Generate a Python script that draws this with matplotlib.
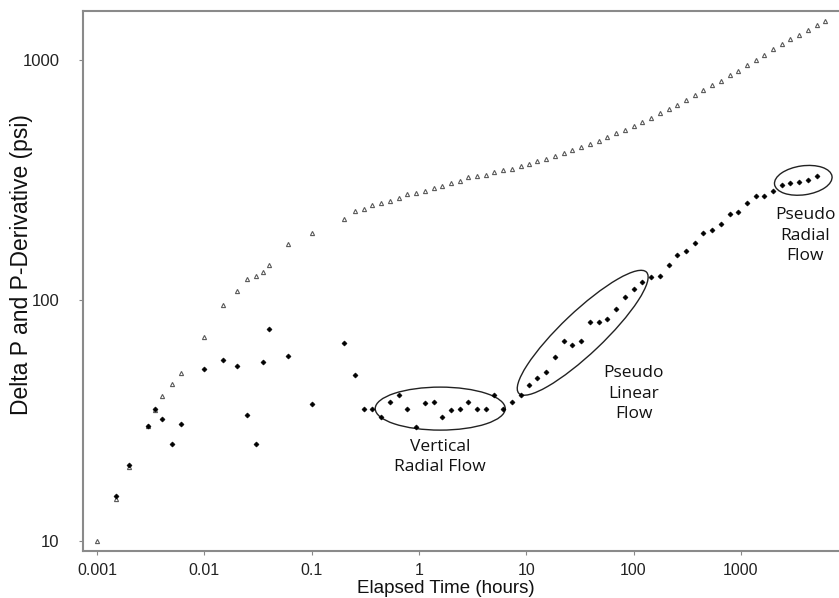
import matplotlib
matplotlib.use('Agg')
import matplotlib.pyplot as plt
from matplotlib.patches import Ellipse
from matplotlib.ticker import FixedLocator, FixedFormatter, NullLocator
import matplotlib.transforms as mtransforms

# Delta P (open triangles)
t_dp = [0.001, 0.0015, 0.002, 0.003, 0.0035, 0.004, 0.005, 0.006, 0.01, 0.015,
        0.02, 0.025, 0.03, 0.035, 0.04, 0.06, 0.1, 0.2,
        0.255, 0.306, 0.368, 0.446, 0.541, 0.649, 0.780, 0.935, 1.13, 1.37,
        1.65, 2.0, 2.40, 2.88, 3.49, 4.2, 5.05, 6.1, 7.33, 8.87,
        10.6, 12.7, 15.4, 18.6, 22.4, 26.9, 32.6, 39.5, 47.4, 57,
        69, 82.8, 100, 120, 146, 175, 212, 255, 306, 371,
        446, 540, 649, 787, 944, 1143, 1374, 1649, 1995, 2399,
        2884, 3491, 4195, 5078, 6053]
dp = [10, 15, 20.2, 30, 35, 40, 45, 50, 70.5, 95.5,
      110, 123, 126, 131, 141, 172, 191, 218,
      236, 240, 249, 255, 259, 267, 277, 281, 285, 294,
      300, 308, 314, 327, 329, 334, 341, 349, 352, 364,
      368, 380, 386, 399, 409, 424, 436, 448, 462, 477,
      496, 512, 533, 551, 576, 600, 625, 652, 684, 713,
      750, 785, 820, 863, 903, 951, 1000, 1052, 1107, 1161,
      1219, 1271, 1334, 1399, 1457]

# P-Derivative (filled dots)
t_der = [0.0015, 0.002, 0.003, 0.0035, 0.004, 0.005, 0.006, 0.01, 0.015, 0.02,
         0.025, 0.03, 0.035, 0.04, 0.06, 0.1, 0.2,
         0.255, 0.306, 0.368, 0.446, 0.541, 0.649, 0.780, 0.935, 1.13, 1.37,
         1.65, 2.0, 2.40, 2.88, 3.49, 4.2, 5.05, 6.1, 7.33, 8.87,
         10.6, 12.7, 15.4, 18.6, 22.4, 26.9, 32.6, 39.5, 47.4, 57,
         69, 82.8, 100, 120, 146, 175, 212, 255, 306, 371,
         446, 540, 649, 787, 944, 1143, 1374, 1649, 1995, 2399,
         2884, 3491, 4195, 5078]
der = [15.4, 20.6, 30, 35.3, 32, 25.4, 30.6, 52, 56.6, 53.6,
       33.5, 25.2, 55.7, 76, 58.8, 37, 66.6,
       48.9, 35.3, 35.3, 32.7, 37.8, 40.6, 35.5, 29.7, 37.5, 37.8,
       32.7, 35.1, 35.2, 37.9, 35.2, 35.2, 40.5, 35.3, 37.8, 40.5,
       44.7, 47.5, 50.3, 58.2, 68.1, 65.1, 68.1, 81.4, 81.4, 83.8,
       92.2, 103, 111.6, 119, 125, 127, 141, 155, 161, 173,
       191, 196, 209, 228, 233, 255, 272, 271, 285, 302,
       307, 310, 317, 329]

x_ticks = [0.001, 0.01, 0.1, 1, 10, 100, 1000]
x_labels = ['0.001', '0.01', '0.1', '1', '10', '100', '1000']
y_ticks = [10, 100, 1000]
y_labels = ['10', '100', '1000']

# flow regime annotations: label, text position, ellipse centre, size (px), angle
regimes = [
    ('Vertical\nRadial Flow', (1.58, 22.3), (1.58, 35.5), (130, 43), 0),
    ('Pseudo\nLinear\nFlow', (100, 41), (33.6, 73.4), (176, 42), 43.5),
    ('Pseudo\nRadial\nFlow', (4000, 186), (3820, 316), (58, 29), 8),
]

plt.rcParams['font.family'] = ['Liberation Sans', 'DejaVu Sans']

fig = plt.figure(figsize=(8.39, 5.98), dpi=100)
ax = fig.add_axes([0.099, 0.0786, 0.901, 0.903])

ax.plot(t_dp, dp, linestyle='none', marker='^', markersize=3.0,
        markerfacecolor='white', markeredgecolor='#5a5a5a', markeredgewidth=0.8)
ax.plot(t_der, der, linestyle='none', marker='D', markersize=2.6,
        markerfacecolor='black', markeredgecolor='black', markeredgewidth=0.4)

ax.set_xscale('log')
ax.set_yscale('log')
ax.set_xlim(10 ** -3.13, 10 ** 3.915)
ax.set_ylim(10 ** 0.958, 10 ** 3.204)

ax.xaxis.set_major_locator(FixedLocator(x_ticks))
ax.xaxis.set_major_formatter(FixedFormatter(x_labels))
ax.yaxis.set_major_locator(FixedLocator(y_ticks))
ax.yaxis.set_major_formatter(FixedFormatter(y_labels))
ax.xaxis.set_minor_locator(NullLocator())
ax.yaxis.set_minor_locator(NullLocator())
ax.tick_params(axis='both', length=3, width=0.8, color='#888888',
               labelcolor='#222222')
ax.tick_params(axis='x', labelsize=11.5, pad=6)
ax.tick_params(axis='y', labelsize=12, pad=14)

for side in ['left', 'bottom', 'top']:
    ax.spines[side].set_color('#8a8a8a')
    ax.spines[side].set_linewidth(1.5)
ax.spines['right'].set_visible(False)

ax.set_xlabel('Elapsed Time (hours)', fontsize=13.5, color='#111111')
ax.set_ylabel('Delta P and P-Derivative (psi)', fontsize=16.5, color='#111111')
ax.xaxis.set_label_coords(0.48, -0.054)
ax.yaxis.set_label_coords(-0.066, 0.53)

for label, txt_pos, centre, size, angle in regimes:
    trans = fig.dpi_scale_trans + mtransforms.ScaledTranslation(
        centre[0], centre[1], ax.transData)
    ell = Ellipse((0, 0), size[0] / fig.dpi, size[1] / fig.dpi, angle=angle,
                  transform=trans, fill=False, edgecolor='#222222', linewidth=1.0)
    ax.add_patch(ell)
    ax.text(txt_pos[0], txt_pos[1], label, ha='center', va='center',
            fontsize=12.5, family=['Open Sans', 'DejaVu Sans'],
            color='#111111', linespacing=1.35)

fig.savefig('out.png', dpi=100)
